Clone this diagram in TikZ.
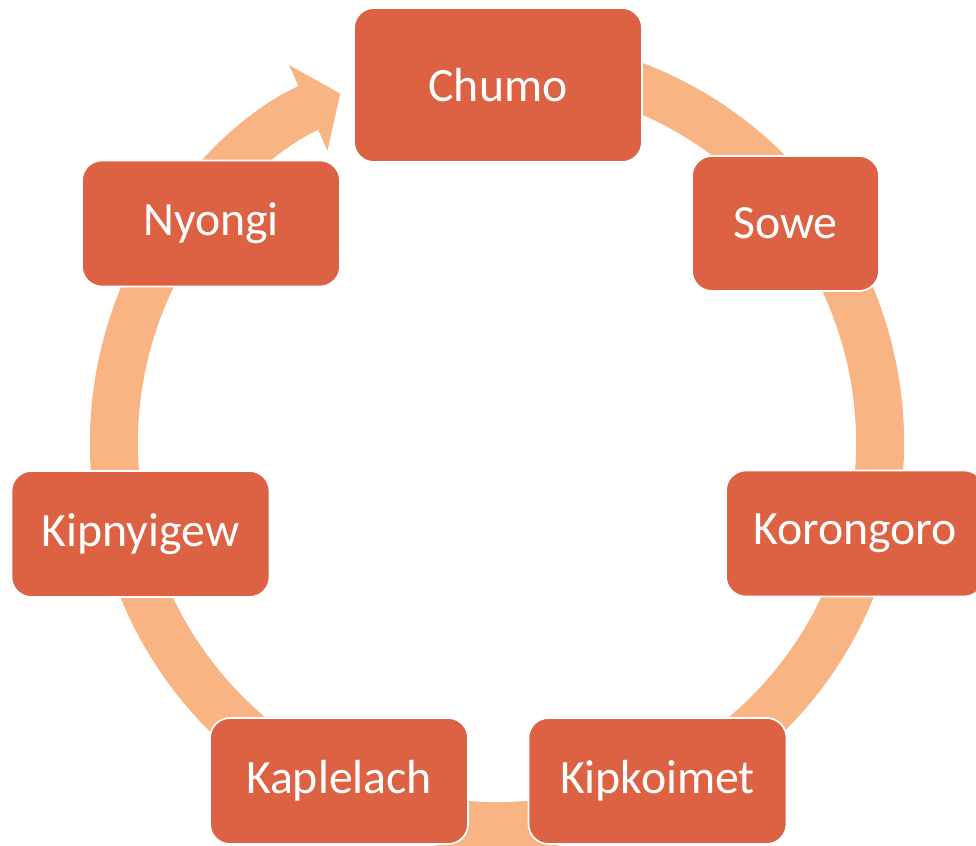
\documentclass[tikz,border=0pt]{standalone}
\usepackage{fontspec}
\setmainfont{Carlito}
\usepackage{xcolor}
\usepackage{tikz}
\usetikzlibrary{arrows.meta}
\definecolor{brick}{HTML}{DD6243}
\definecolor{peach}{HTML}{F8B482}

\begin{document}
\begin{tikzpicture}[
    every node/.style={font=\fontsize{34}{40}\selectfont, align=center},
    stage/.style={draw=white, line width=1.2pt, rounded corners=0.5cm, fill=brick,
                  text=white, minimum width=6.45cm, minimum height=3.15cm},
    ring/.style={draw=peach, line width=1.2cm, -{Triangle[length=0.875cm, width=2.3cm]}}]
\useasboundingbox (0,0) rectangle (24.4,21.125);
\coordinate (ringc) at (12.425,10.05);

% the cycle ring, behind the boxes
\draw[ring] (ringc) ++(70:9.575) arc[start angle=70, end angle=-245.84, radius=9.575cm];

\node[stage, minimum width=7.2cm, minimum height=3.85cm] (chumo) at (12.45,19.0) {Chumo};
\node[stage, minimum width=4.675cm, minimum height=3.375cm] (sowe) at (19.6375,15.5375) {Sowe};
\node[stage] (korongoro) at (21.375,7.7875) {Korongoro};
\node[stage] (kipkoimet) at (16.4375,1.6) {Kipkoimet};
\node[stage] (kaplelach) at (8.475,1.6) {Kaplelach};
\node[stage] (kipnyigew) at (3.5125,7.775) {Kipnyigew};
\node[stage] (nyongi) at (5.275,15.5375) {Nyongi};
\end{tikzpicture}
\end{document}
